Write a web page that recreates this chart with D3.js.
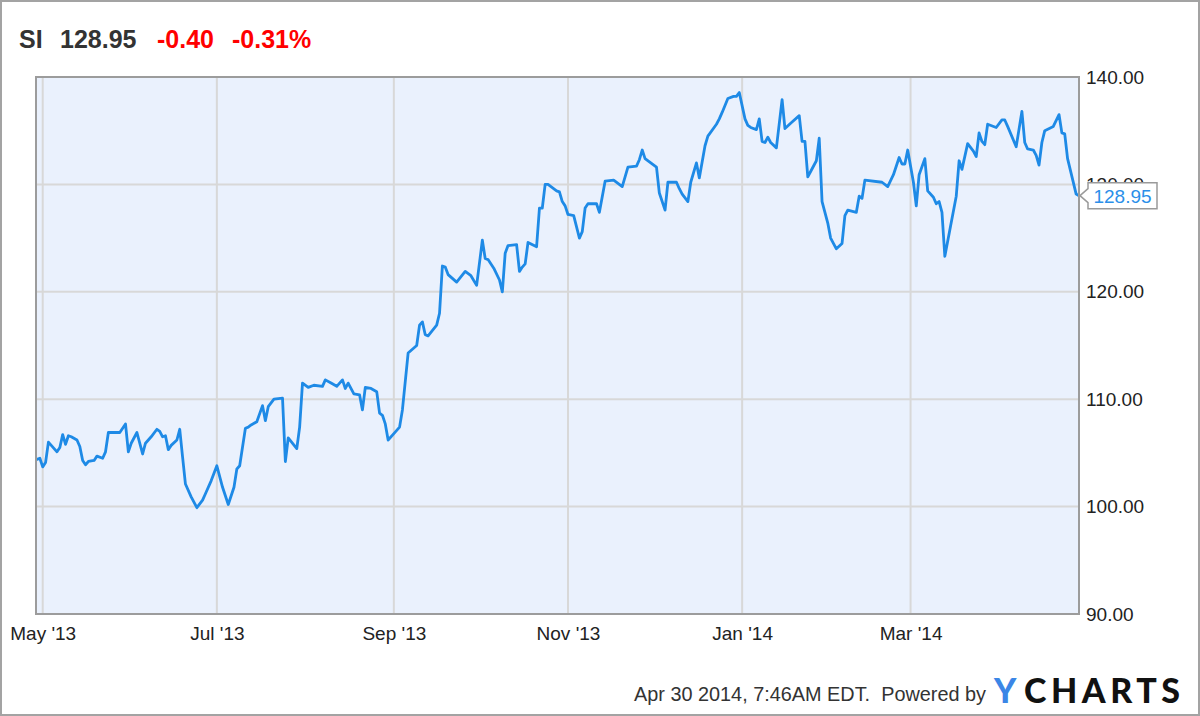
<!DOCTYPE html>
<html>
<head>
<meta charset="utf-8">
<script src="https://cdn.jsdelivr.net/npm/d3@7"></script>
<style>
  html, body { margin: 0; padding: 0; background: #fff; }
  svg text { font-family: "Liberation Sans", Arial, sans-serif; }
</style>
</head>
<body>
<svg id="chart" width="1200" height="716"></svg>
<script>
// ---- header ----
const symbol = "SI";
const lastPrice = "128.95";
const change = "-0.40";
const changePct = "-0.31%";
const footerText = "Apr 30 2014, 7:46AM EDT.  Powered by";

// ---- axis ----
const xTickDates = ["2013-05-01","2013-07-01","2013-09-01","2013-11-01","2014-01-01","2014-03-01"];
const xTickLabels = ["May '13","Jul '13","Sep '13","Nov '13","Jan '14","Mar '14"];
const yTicks = [90, 100, 110, 120, 130, 140];

// ---- series ----
const dates = [
"2013-04-29","2013-04-30","2013-05-01","2013-05-02","2013-05-03","2013-05-04","2013-05-06","2013-05-07","2013-05-08","2013-05-09",
"2013-05-10","2013-05-11","2013-05-13","2013-05-14","2013-05-15","2013-05-16","2013-05-17","2013-05-19","2013-05-20","2013-05-22",
"2013-05-23","2013-05-24","2013-05-28","2013-05-30","2013-05-31","2013-06-01","2013-06-03","2013-06-05","2013-06-06","2013-06-08",
"2013-06-10","2013-06-11","2013-06-12","2013-06-13","2013-06-14","2013-06-15","2013-06-17","2013-06-18","2013-06-19","2013-06-20",
"2013-06-22","2013-06-24","2013-06-26","2013-06-27","2013-06-29","2013-07-01","2013-07-03","2013-07-05","2013-07-07","2013-07-08",
"2013-07-09","2013-07-11","2013-07-12","2013-07-13","2013-07-15","2013-07-17","2013-07-18","2013-07-19","2013-07-21","2013-07-24",
"2013-07-25","2013-07-26","2013-07-29","2013-07-30","2013-07-31","2013-08-02","2013-08-04","2013-08-07","2013-08-08","2013-08-10",
"2013-08-12","2013-08-14","2013-08-15","2013-08-16","2013-08-18","2013-08-20","2013-08-21","2013-08-22","2013-08-24","2013-08-26",
"2013-08-27","2013-08-28","2013-08-29","2013-08-30","2013-09-01","2013-09-03","2013-09-04","2013-09-06","2013-09-09","2013-09-10",
"2013-09-11","2013-09-12","2013-09-13","2013-09-16","2013-09-17","2013-09-18","2013-09-19","2013-09-20","2013-09-23","2013-09-26",
"2013-09-28","2013-09-30","2013-10-02","2013-10-03","2013-10-04","2013-10-06","2013-10-08","2013-10-09","2013-10-10","2013-10-11",
"2013-10-14","2013-10-15","2013-10-16","2013-10-17","2013-10-18","2013-10-21","2013-10-22","2013-10-23","2013-10-24","2013-10-25",
"2013-10-28","2013-10-29","2013-10-30","2013-10-31","2013-11-01","2013-11-03","2013-11-05","2013-11-06","2013-11-07","2013-11-08",
"2013-11-11","2013-11-12","2013-11-14","2013-11-17","2013-11-20","2013-11-22","2013-11-25","2013-11-26","2013-11-27","2013-11-28",
"2013-11-30","2013-12-02","2013-12-03","2013-12-05","2013-12-06","2013-12-09","2013-12-10","2013-12-11","2013-12-13","2013-12-14",
"2013-12-16","2013-12-17","2013-12-19","2013-12-20","2013-12-23","2013-12-24","2013-12-25","2013-12-27","2013-12-29","2013-12-30",
"2013-12-31","2014-01-02","2014-01-03","2014-01-04","2014-01-06","2014-01-07","2014-01-08","2014-01-09","2014-01-10","2014-01-11",
"2014-01-13","2014-01-15","2014-01-16","2014-01-18","2014-01-21","2014-01-22","2014-01-23","2014-01-24","2014-01-25","2014-01-27",
"2014-01-28","2014-01-29","2014-01-31","2014-02-01","2014-02-03","2014-02-05","2014-02-06","2014-02-07","2014-02-10","2014-02-11",
"2014-02-12","2014-02-13","2014-02-19","2014-02-21","2014-02-23","2014-02-25","2014-02-26","2014-02-27","2014-02-28","2014-03-02",
"2014-03-03","2014-03-04","2014-03-06","2014-03-07","2014-03-09","2014-03-10","2014-03-11","2014-03-12","2014-03-13","2014-03-15",
"2014-03-17","2014-03-18","2014-03-19","2014-03-21","2014-03-23","2014-03-24","2014-03-25","2014-03-26","2014-03-27","2014-03-28",
"2014-03-31","2014-04-02","2014-04-03","2014-04-04","2014-04-07","2014-04-09","2014-04-10","2014-04-11","2014-04-13","2014-04-14",
"2014-04-15","2014-04-16","2014-04-17","2014-04-20","2014-04-22","2014-04-23","2014-04-24","2014-04-25","2014-04-28","2014-04-29"
];
const prices = [
104.4,104.5,103.7,104.1,106.0,105.7,105.1,105.5,106.7,105.8,
106.6,106.5,106.2,105.6,104.3,103.9,104.2,104.3,104.7,104.5,
105.1,106.9,106.9,107.7,105.1,105.9,106.9,104.9,105.9,106.5,
107.2,107.0,106.5,106.6,105.3,105.7,106.2,107.2,104.6,102.1,
100.9,99.9,100.6,101.2,102.4,103.8,101.8,100.2,101.8,103.5,
103.8,107.3,107.4,107.6,107.9,109.4,108.0,109.3,110.0,110.1,
104.2,106.4,105.4,107.4,111.5,111.1,111.3,111.2,111.8,111.5,
111.2,111.8,111.0,111.5,110.5,110.4,109.0,111.1,111.0,110.7,
108.7,108.5,107.7,106.2,106.8,107.4,109.0,114.3,115.0,116.9,
117.2,116.0,115.9,116.9,118.0,122.4,122.3,121.6,120.9,121.9,
121.5,120.6,124.8,123.1,123.0,122.2,121.1,120.0,123.6,124.3,
124.4,121.9,122.3,122.6,124.6,124.2,127.8,127.8,130.0,130.0,
129.4,129.3,128.4,128.0,127.2,127.1,125.0,125.6,127.8,128.2,
128.2,127.4,130.3,130.4,129.8,131.6,131.7,132.3,133.2,132.4,
132.0,131.6,129.2,127.6,130.2,130.2,129.6,129.1,128.4,130.2,
132.0,130.6,133.6,134.5,135.6,136.1,136.7,138.0,138.2,138.2,
138.55,136.1,135.5,135.3,135.1,136.1,134.0,133.9,134.4,133.9,
133.4,137.9,135.2,135.7,136.4,134.0,134.0,130.7,131.2,132.2,
134.3,128.4,126.4,125.0,124.0,124.5,127.1,127.6,127.4,128.9,
128.7,130.4,130.2,129.8,130.9,132.5,131.9,131.9,133.2,130.2,
128.0,130.9,132.4,129.4,128.8,128.2,128.4,127.4,123.3,126.1,
128.9,132.2,131.4,133.8,133.1,132.6,134.8,134.0,133.7,135.6,
135.3,136.0,136.0,135.4,133.5,136.8,133.9,133.3,133.2,132.7,
131.8,133.9,135.0,135.4,136.5,134.8,134.7,132.4,129.1,128.95
];

const parse = d3.timeParse("%Y-%m-%d");
const data = dates.map((d, i) => ({ date: parse(d), value: prices[i] }));

const svg = d3.select("#chart");
const W = 1200, H = 716;
const plot = { left: 36, right: 1079, top: 77, bottom: 614 };

// outer frame
svg.append("rect").attr("x", 1).attr("y", 1).attr("width", W - 2).attr("height", H - 2)
  .attr("fill", "#fff").attr("stroke", "#a3a3a3").attr("stroke-width", 2);

const x = d3.scaleTime()
  .domain([parse("2013-04-29"), parse("2014-04-29")])
  .range([plot.left + 1, plot.right]);
const y = d3.scaleLinear().domain([90, 140]).range([plot.bottom, plot.top]);

// plot background
svg.append("rect").attr("x", plot.left).attr("y", plot.top)
  .attr("width", plot.right - plot.left).attr("height", plot.bottom - plot.top)
  .attr("fill", "#eaf1fd");

// gridlines
const grid = svg.append("g").attr("stroke", "#d8d8d8").attr("stroke-width", 2);
grid.selectAll("line.h").data(yTicks.filter(v => v > 90 && v < 140)).join("line")
  .attr("x1", plot.left).attr("x2", plot.right)
  .attr("y1", d => y(d)).attr("y2", d => y(d));
grid.selectAll("line.v").data(xTickDates.map(parse)).join("line")
  .attr("x1", d => x(d)).attr("x2", d => x(d))
  .attr("y1", plot.top).attr("y2", plot.bottom);

// series line
const line = d3.line().x(d => x(d.date)).y(d => y(d.value));
svg.append("path").datum(data).attr("d", line)
  .attr("fill", "none").attr("stroke", "#1e8ae6").attr("stroke-width", 2.8)
  .attr("stroke-linejoin", "round").attr("stroke-linecap", "round");

// plot border
svg.append("rect").attr("x", plot.left).attr("y", plot.top)
  .attr("width", plot.right - plot.left).attr("height", plot.bottom - plot.top)
  .attr("fill", "none").attr("stroke", "#9c9c9c").attr("stroke-width", 2);

// y axis (right)
const yAxis = d3.axisRight(y).tickValues(yTicks).tickFormat(d3.format(".2f"))
  .tickSize(0).tickPadding(7);
const gy = svg.append("g").attr("transform", `translate(${plot.right},0)`).call(yAxis);
gy.select(".domain").remove();
gy.selectAll("text").attr("font-size", 19).attr("fill", "#222")
  .style("font-family", "'Liberation Sans', Arial, sans-serif");

// x axis
const xAxis = d3.axisBottom(x).tickValues(xTickDates.map(parse))
  .tickFormat((d, i) => xTickLabels[i]).tickSize(0).tickPadding(13);
const gx = svg.append("g").attr("transform", `translate(0,${plot.bottom})`).call(xAxis);
gx.select(".domain").remove();
gx.selectAll("text").attr("font-size", 19).attr("fill", "#222")
  .style("font-family", "'Liberation Sans', Arial, sans-serif");

// last value callout
const last = data[data.length - 1];
const lx = x(last.date), ly = y(last.value);
const bx = lx + 9, bw = 69, bh = 26;
svg.append("path")
  .attr("d", `M${lx+1},${ly} L${bx},${ly-7} L${bx},${ly-bh/2} L${bx+bw},${ly-bh/2} L${bx+bw},${ly+bh/2} L${bx},${ly+bh/2} L${bx},${ly+7} Z`)
  .attr("fill", "#fff").attr("stroke", "#9a9a9a").attr("stroke-width", 1.5);
svg.append("text").attr("x", bx + bw / 2).attr("y", ly + 7)
  .attr("text-anchor", "middle").attr("font-size", 19).attr("fill", "#2b8fe9")
  .text(last.value.toFixed(2));

// header
const head = svg.append("g").attr("font-size", 25).attr("font-weight", "bold");
head.append("text").attr("x", 19).attr("y", 48).attr("fill", "#333").text(symbol);
head.append("text").attr("x", 60).attr("y", 48).attr("fill", "#333").text(lastPrice);
head.append("text").attr("x", 157).attr("y", 48).attr("fill", "#f00").text(change);
head.append("text").attr("x", 232).attr("y", 48).attr("fill", "#f00").text(changePct);

// footer
svg.append("text").attr("x", 634).attr("y", 701).attr("font-size", 20).attr("fill", "#333")
  .attr("textLength", 352).attr("lengthAdjust", "spacingAndGlyphs")
  .style("white-space", "pre").text(footerText);
svg.append("text").attr("x", 994).attr("y", 703).attr("font-size", 34).attr("font-weight", 900)
  .style("font-family", "Lato, 'Open Sans', sans-serif")
  .attr("fill", "#3b86e6").text("Y");
svg.append("text").attr("x", 1024).attr("y", 703).attr("font-size", 34).attr("font-weight", 900)
  .style("font-family", "Lato, 'Open Sans', sans-serif")
  .attr("fill", "#111").attr("textLength", 156).attr("lengthAdjust", "spacing").text("CHARTS");
</script>
</body>
</html>
